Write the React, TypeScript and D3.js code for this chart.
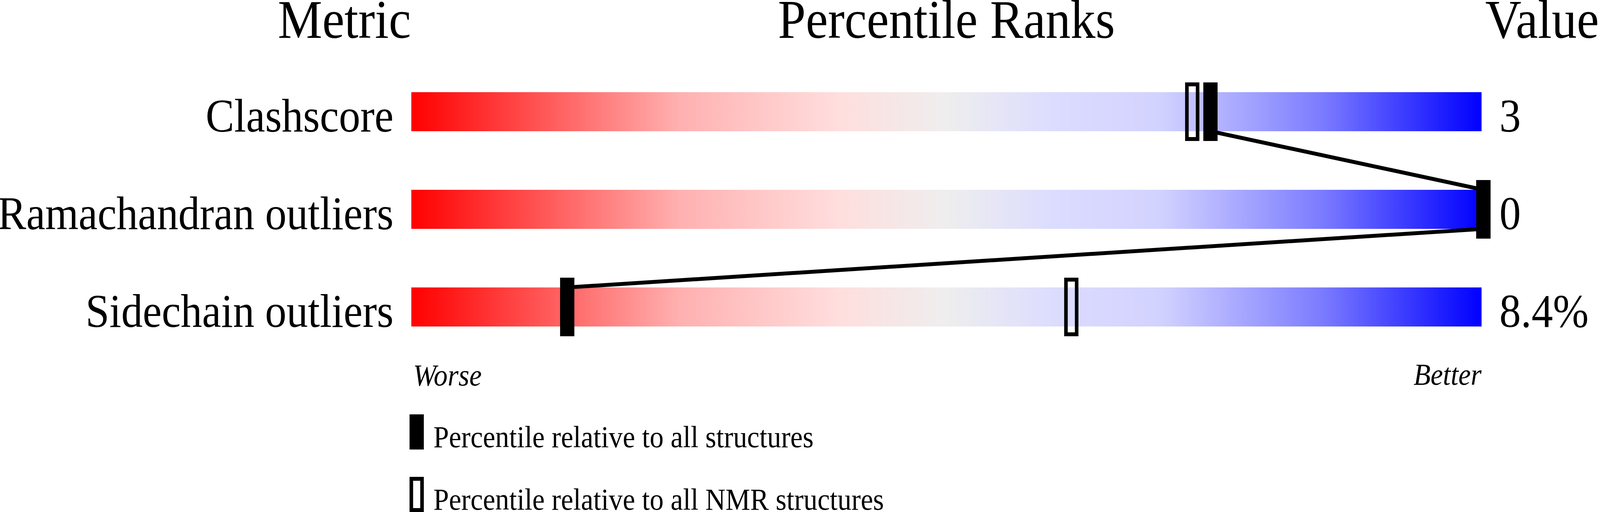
import React from "react";
import * as d3 from "d3";

const metrics = ["Clashscore", "Ramachandran outliers", "Sidechain outliers"];
const values = ["3", "0", "8.4%"];
const percentileAll = [74.5, 100, 14.4];
const percentileNMR = [72.8, 100, 61.5];
const headers = ["Metric", "Percentile Ranks", "Value"];
const axisLabels = ["Worse", "Better"];
const legendLabels = [
  "Percentile relative to all structures",
  "Percentile relative to all NMR structures",
];
const gradientStops: [number, string][] = [
  [0, "#ff0000"],
  [0.25, "#ffb0b0"],
  [0.4, "#ffdede"],
  [0.5, "#eeeeee"],
  [0.6, "#dcdcff"],
  [0.7, "#d2d2ff"],
  [0.85, "#7c7cff"],
  [1, "#0000ff"],
];

const W = 4485;
const H = 1311;
const FONT = "'Liberation Serif', 'Times New Roman', Times, serif";

export default function App() {
  const x = d3.scaleLinear().domain([0, 100]).range([1153, 4153]);
  const y = d3
    .scaleBand<string>()
    .domain(metrics)
    .range([236, 836])
    .paddingInner(0.6)
    .paddingOuter(0);
  const bw = y.bandwidth();
  const markerW = 40;
  const markerOff = 15;
  const markerExt = 25;
  const markerH = bw + markerExt * 2;

  const cx = (p: number) => x(p) - markerOff + markerW / 2;

  const linePts: [number, number][] = [];
  metrics.forEach((m, i) => {
    const top = y(m)!;
    if (i > 0) linePts.push([cx(percentileAll[i]), top]);
    if (i < metrics.length - 1) linePts.push([cx(percentileAll[i]), top + bw]);
  });
  const segs: [number, number][][] = [];
  for (let i = 0; i < linePts.length; i += 2) segs.push([linePts[i], linePts[i + 1]]);
  const lineGen = d3.line();

  return (
    <svg
      viewBox={`0 0 ${W} ${H}`}
      preserveAspectRatio="none"
      style={{
        position: "fixed",
        left: 0,
        top: 0,
        width: "100%",
        height: "100%",
        display: "block",
        background: "#fff",
      }}
      fontFamily={FONT}
    >
      <defs>
        <linearGradient id="grad" x1="0" x2="1" y1="0" y2="0">
          {gradientStops.map(([o, c], i) => (
            <stop key={i} offset={o} stopColor={c} />
          ))}
        </linearGradient>
      </defs>
      <rect x={0} y={0} width={W} height={H} fill="#fff" />
      <text x={1152} y={97} fontSize={140} textAnchor="end">
        {headers[0]}
      </text>
      <text x={(x(0) + x(100)) / 2} y={97} fontSize={140} textAnchor="middle">
        {headers[1]}
      </text>
      <text x={4482} y={97} fontSize={140} textAnchor="end">
        {headers[2]}
      </text>

      {metrics.map((m, i) => (
        <g key={m}>
          <rect x={x(0)} y={y(m)!} width={x(100) - x(0)} height={bw} fill="url(#grad)" />
          <text x={1103} y={y(m)! + bw + 1} fontSize={120} textAnchor="end">
            {m}
          </text>
          <text x={4203} y={y(m)! + bw + 1} fontSize={120} textAnchor="start">
            {values[i]}
          </text>
        </g>
      ))}

      {segs.map((s, i) => (
        <path key={i} d={lineGen(s) || ""} stroke="#000" strokeWidth={10} fill="none" />
      ))}

      {metrics.map((m, i) => (
        <g key={m + "-mk"}>
          <rect
            x={x(percentileNMR[i]) - markerOff + 5}
            y={y(m)! - markerExt + 5}
            width={markerW - 10}
            height={markerH - 10}
            fill="none"
            stroke="#000"
            strokeWidth={10}
          />
          <rect
            x={x(percentileAll[i]) - markerOff}
            y={y(m)! - markerExt}
            width={markerW}
            height={markerH}
            fill="#000"
          />
        </g>
      ))}

      <text x={x(0) + 5} y={987} fontSize={78} fontStyle="italic" textAnchor="start">
        {axisLabels[0]}
      </text>
      <text x={x(100)} y={985} fontSize={78} fontStyle="italic" textAnchor="end">
        {axisLabels[1]}
      </text>

      <rect x={1148} y={1061} width={40} height={90} fill="#000" />
      <text x={1215} y={1145} fontSize={78}>
        {legendLabels[0]}
      </text>
      <rect x={1153} y={1226} width={30} height={80} fill="none" stroke="#000" strokeWidth={10} />
      <text x={1215} y={1305} fontSize={78}>
        {legendLabels[1]}
      </text>
    </svg>
  );
}
